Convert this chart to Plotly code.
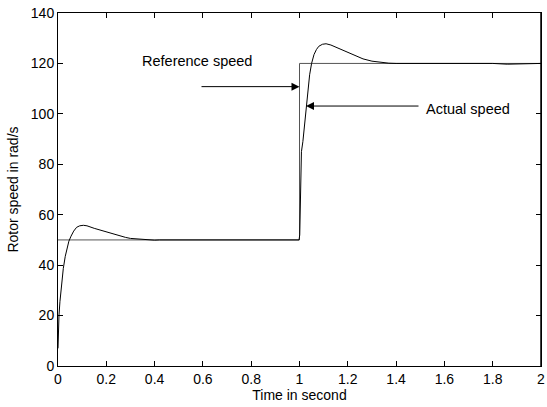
import plotly.graph_objects as go

# Reference speed (step)
ref_t = [0, 1, 1, 2]
ref_v = [50, 50, 120, 120]

# Actual rotor speed
act_t = [0, 0.002, 0.004, 0.008, 0.015, 0.022, 0.03, 0.036, 0.045, 0.054, 0.065, 0.077,
         0.09, 0.105, 0.12, 0.15, 0.18, 0.2, 0.23, 0.257, 0.28, 0.3, 0.33, 0.37, 0.4,
         0.42, 0.5, 0.56, 0.6, 0.65, 0.7, 0.75, 0.8, 0.85, 0.9, 0.95, 0.998,
         1.001, 1.003, 1.005, 1.008, 1.014, 1.02, 1.027, 1.035, 1.042, 1.05, 1.06, 1.07, 1.08,
         1.095, 1.11, 1.13, 1.16, 1.195, 1.23, 1.263, 1.3, 1.333, 1.37, 1.4,
         1.6, 1.7, 1.8, 1.86, 1.9, 1.93, 1.96, 2.0]
act_v = [7, 15, 20, 25.5, 33, 38.7, 43.5, 46.5, 49.5, 51.5, 53.5, 55,
         55.6, 55.8, 55.6, 54.6, 53.7, 53.1, 52.2, 51.5, 51, 50.6, 50.3, 50.1, 49.9,
         50, 50, 49.8, 49.9, 49.8, 49.9, 50, 49.9, 49.8, 49.9, 50, 50,
         52, 61, 80, 85, 89, 95, 103, 110, 115.5, 120, 123.5, 125.5, 126.8,
         127.6, 127.8, 127.3, 126, 124.6, 123.1, 121.8, 120.9, 120.4, 120.1, 120,
         120, 119.9, 120, 119.7, 119.8, 119.7, 120, 120]

x_ticks = [0, 0.2, 0.4, 0.6, 0.8, 1, 1.2, 1.4, 1.6, 1.8, 2]
x_labels = ["0", "0.2", "0.4", "0.6", "0.8", "1", "1.2", "1.4", "1.6", "1.8", "2"]
y_ticks = [0, 20, 40, 60, 80, 100, 120, 140]

FONT = "Liberation Sans, Arial, Helvetica, sans-serif"

fig = go.Figure()
fig.add_trace(go.Scatter(x=ref_t, y=ref_v, mode="lines",
                         line=dict(color="#555555", width=1), showlegend=False))
fig.add_trace(go.Scatter(x=act_t, y=act_v, mode="lines",
                         line=dict(color="black", width=1),
                         showlegend=False))

axis_common = dict(showline=True, linecolor="black", linewidth=1, mirror="ticks",
                   ticks="inside", ticklen=5, tickcolor="black", tickwidth=1,
                   showgrid=False, zeroline=False, automargin=False,
                   ticklabeloverflow="allow",
                   tickfont=dict(family=FONT, size=14, color="black"))

fig.update_xaxes(range=[0, 2], tickvals=x_ticks, ticktext=x_labels,
                 title=dict(text="Time in second", standoff=3,
                            font=dict(family=FONT, size=14, color="black")),
                 **axis_common)
fig.update_yaxes(range=[0, 140], tickvals=y_ticks,
                 title=dict(text="Rotor speed in rad/s", standoff=8,
                            font=dict(family=FONT, size=14, color="black")),
                 **axis_common)

# Explicit right-hand border of the plotting area
fig.add_shape(type="line", xref="paper", yref="paper", x0=1, x1=1, y0=0, y1=1,
              line=dict(color="black", width=1.5), layer="above")

# Text labels
fig.add_annotation(x=0.576, y=121, text="Reference speed", showarrow=False,
                   font=dict(family=FONT, size=14.5, color="black"))
fig.add_annotation(x=1.696, y=102, text="Actual speed", showarrow=False,
                   font=dict(family=FONT, size=14.5, color="black"))
# Arrows
fig.add_annotation(x=1.0, y=110.8, ax=0.588, ay=110.8, axref="x", ayref="y",
                   xref="x", yref="y", text="", showarrow=True,
                   arrowhead=2, arrowsize=1.6, arrowwidth=1, arrowcolor="black")
fig.add_annotation(x=1.027, y=103.1, ax=1.499, ay=103.1, axref="x", ayref="y",
                   xref="x", yref="y", text="", showarrow=True,
                   arrowhead=2, arrowsize=1.6, arrowwidth=1, arrowcolor="black")

fig.update_layout(width=547, height=407,
                  margin=dict(l=58, r=6, t=13, b=41),
                  plot_bgcolor="white", paper_bgcolor="white",
                  font=dict(family=FONT, size=14, color="black"))

fig.write_html("out.html",
               config={"displayModeBar": False},
               post_script="document.body.style.margin='0';"
                           "document.body.style.overflow='hidden';")
